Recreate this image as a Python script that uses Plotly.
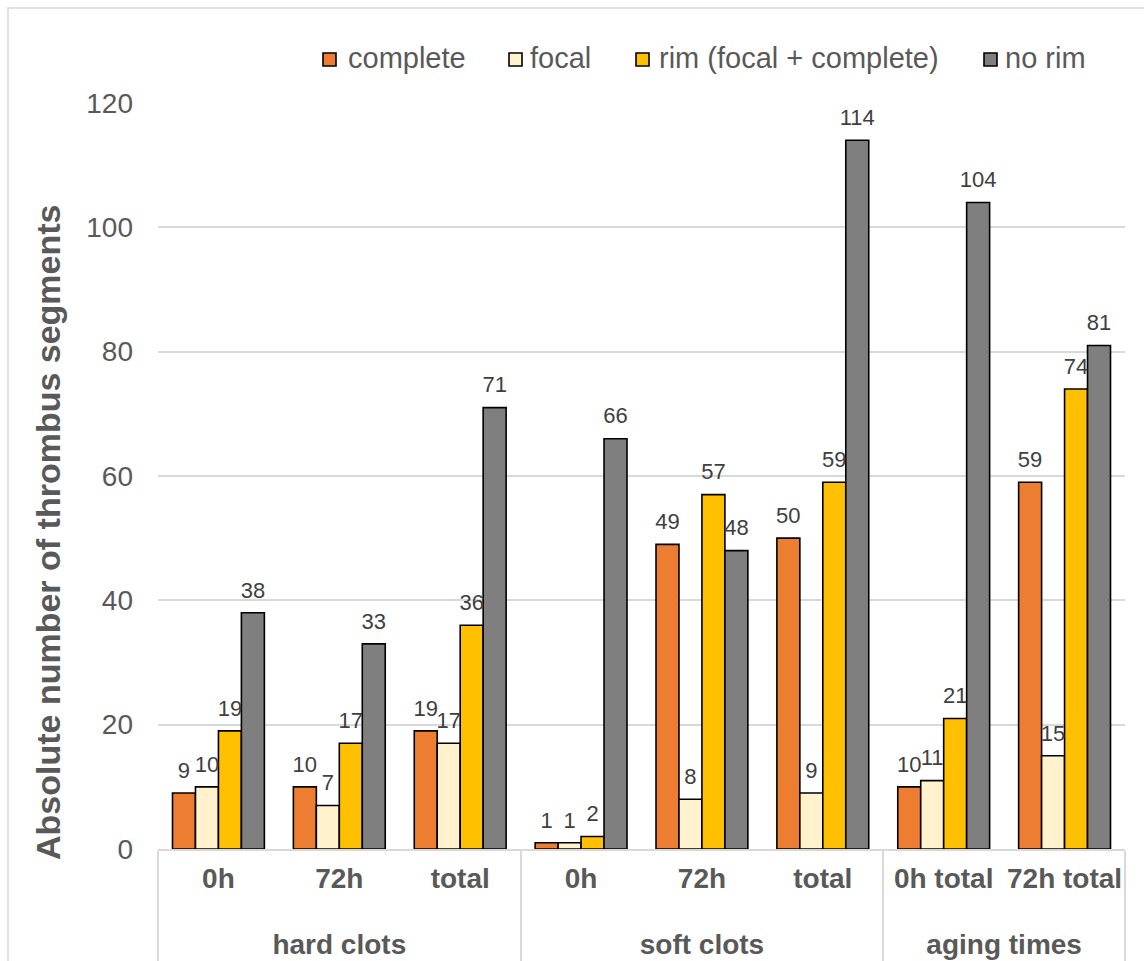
import plotly.graph_objects as go

# ---- data -------------------------------------------------------------
groups = ["hard clots"] * 3 + ["soft clots"] * 3 + ["aging times"] * 2
subgroups = ["0h", "72h", "total", "0h", "72h", "total", "0h total", "72h total"]

complete = [9, 10, 19, 1, 49, 50, 10, 59]
focal = [10, 7, 17, 1, 8, 9, 11, 15]
rim = [19, 17, 36, 2, 57, 59, 21, 74]
no_rim = [38, 33, 71, 66, 48, 114, 104, 81]

series_names = ["complete", "focal", "rim (focal + complete)", "no rim"]
series_values = [complete, focal, rim, no_rim]
series_colors = ["#ED7D31", "#FFF2CC", "#FFC000", "#7F7F7F"]

y_ticks = [0, 20, 40, 60, 80, 100, 120]
y_title = "Absolute number of thrombus segments"

# ---- page geometry (pixels) ------------------------------------------
W, H = 1144, 961
L, R, T, B = 158, 1125, 103, 849
FONT = "Liberation Sans, Arial, sans-serif"
GRID = "#D9D9D9"
TEXT = "#595959"
GAP = 0.24


def px_x(x):
    return (x - L) / (R - L)


def px_y(y):
    return (B - y) / (B - T)


# inner tick labels get an empty second line so the group row sits lower
sub_labels = [s + "<br> " for s in subgroups]
xcats = [groups, sub_labels]

fig = go.Figure()
for i, (name, vals, color) in enumerate(zip(series_names, series_values, series_colors)):
    fig.add_trace(go.Bar(
        name=name,
        x=xcats,
        y=vals,
        offsetgroup=str(i),
        marker=dict(color=color, line=dict(color="#000000", width=1.6)),
        showlegend=False,
        hoverinfo="skip",
    ))
# value labels above each bar, grouped the same way as the bars
for i, (name, vals) in enumerate(zip(series_names, series_values)):
    fig.add_trace(go.Scatter(
        name=name,
        x=xcats,
        y=vals,
        offsetgroup=str(i),
        mode="markers+text",
        marker=dict(size=14, opacity=0),
        text=[str(v) for v in vals],
        textposition="top center",
        textfont=dict(family=FONT, size=22, color="#404040"),
        cliponaxis=False,
        showlegend=False,
        hoverinfo="skip",
    ))

# legend drawn as swatches + labels across the top
legend_swatch_x = [323, 509, 636, 984]
legend_text_x = [346, 528, 657, 1003]
shapes = []
annotations = []
for sx, tx, name, color in zip(legend_swatch_x, legend_text_x, series_names, series_colors):
    shapes.append(dict(
        type="rect", xref="paper", yref="paper",
        x0=px_x(sx), x1=px_x(sx + 13), y0=px_y(66), y1=px_y(53),
        fillcolor=color, line=dict(color="#000000", width=1.6),
    ))
    annotations.append(dict(
        xref="paper", yref="paper", x=px_x(tx), y=px_y(58),
        xanchor="left", yanchor="middle", showarrow=False,
        text=name, font=dict(family=FONT, size=29, color=TEXT),
    ))

# y-axis title
annotations.append(dict(
    xref="paper", yref="paper", x=px_x(48), y=px_y(532),
    xanchor="center", yanchor="middle", showarrow=False, textangle=-90,
    text=y_title, font=dict(family=FONT, size=34, color=TEXT, weight="bold"),
))

# outer chart frame
shapes.append(dict(
    type="rect", xref="paper", yref="paper", layer="below",
    x0=px_x(8), x1=px_x(W + 20), y0=px_y(H + 20), y1=px_y(8),
    line=dict(color=GRID, width=1.5), fillcolor="rgba(0,0,0,0)",
))

fig.update_layout(
    width=W, height=H,
    margin=dict(l=L, r=W - R, t=T, b=H - B, autoexpand=False),
    paper_bgcolor="white", plot_bgcolor="white",
    barmode="group", bargap=GAP, bargroupgap=0,
    scattermode="group", scattergap=GAP,
    font=dict(family=FONT, color=TEXT),
    shapes=shapes, annotations=annotations,
)
fig.update_xaxes(
    type="multicategory", automargin=False, tickangle=0,
    showline=True, linecolor=GRID, linewidth=1.5,
    showgrid=False, ticks="",
    ticklabelstandoff=4,
    showdividers=True, dividercolor=GRID, dividerwidth=1.5,
    tickfont=dict(family=FONT, size=28, color=TEXT, weight="bold"),
)
fig.update_yaxes(
    range=[0, 120], tickvals=y_ticks, automargin=False,
    showgrid=True, gridcolor=GRID, gridwidth=1.5,
    zeroline=False, showline=False, ticks="",
    ticklabelstandoff=24,
    tickfont=dict(family=FONT, size=28, color=TEXT),
)

fig.write_html("out.html")
